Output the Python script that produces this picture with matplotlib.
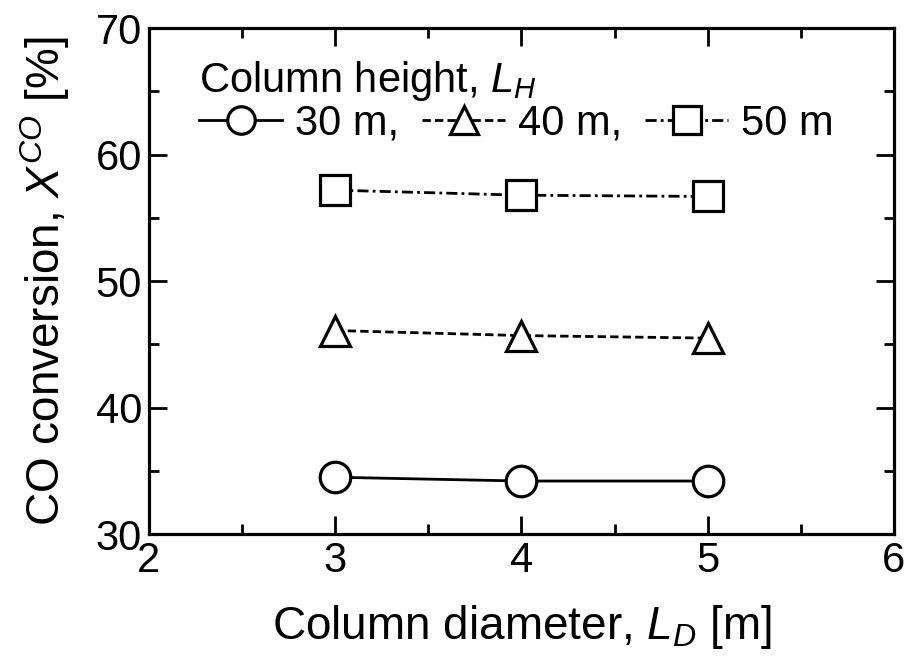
import numpy as np
import matplotlib.pyplot as plt
from matplotlib import font_manager

# font: narrow helvetica-like if available
names = set(f.name for f in font_manager.fontManager.ttflist)
fam = 'Liberation Sans Narrow' if 'Liberation Sans Narrow' in names else 'Liberation Sans'
plt.rcParams['font.family'] = [fam, 'DejaVu Sans']
plt.rcParams['mathtext.fontset'] = 'custom'
plt.rcParams['mathtext.rm'] = fam
plt.rcParams['mathtext.it'] = fam + ':italic'

### data
diameter = [3, 4, 5]
conv_30m = [34.5, 34.2, 34.2]
conv_40m = [46.1, 45.7, 45.5]
conv_50m = [57.2, 56.8, 56.7]
series_labels = ['30 m,', '40 m,', '50 m']

fig = plt.figure(figsize=(9.1, 6.57), dpi=100)
ax = fig.add_axes([0.1637, 0.187, 0.8187, 0.770])

mk = dict(markersize=22, markerfacecolor='white', markeredgecolor='black',
          markeredgewidth=2.3, color='black', linewidth=2.0)
l1, = ax.plot(diameter, conv_30m, '-', marker='o', **mk)
l2, = ax.plot(diameter, conv_40m, linestyle=(0, (3, 1.5)), marker='^', **mk)
l3, = ax.plot(diameter, conv_50m, linestyle=(0, (4, 1.5, 1, 1.5)), marker='s', **mk)

ax.set_xlim(2, 6)
ax.set_ylim(30, 70)
ax.set_xticks([2, 3, 4, 5, 6])
ax.set_xticks(np.arange(2.5, 6, 1), minor=True)
ax.set_yticks([30, 40, 50, 60, 70])
ax.set_yticks(np.arange(35, 70, 10), minor=True)
ax.tick_params(which='both', direction='in', top=True, right=True, width=2,
               labelsize=30, pad=5)
ax.tick_params(which='major', length=13)
ax.tick_params(which='minor', length=7)
for s in ax.spines.values():
    s.set_linewidth(2.3)

ax.set_xlabel('Column diameter, $\\mathit{L_D}$ [m]', fontsize=33, labelpad=16)
ax.set_ylabel('CO conversion, $\\mathit{X}^{CO}$ [%]', fontsize=33, labelpad=17)

leg = ax.legend([l1, l2, l3], series_labels, ncol=3, loc='upper left',
                title='Column height, $\\mathit{L_H}$', title_fontsize=30,
                fontsize=30, frameon=False, handlelength=2.0, handletextpad=0.3,
                columnspacing=0.55, borderaxespad=0.0, labelspacing=0.02,
                markerscale=0.9, bbox_to_anchor=(0.045, 0.972))
leg._legend_box.align = 'left'

fig.savefig('out.png', dpi=100)
